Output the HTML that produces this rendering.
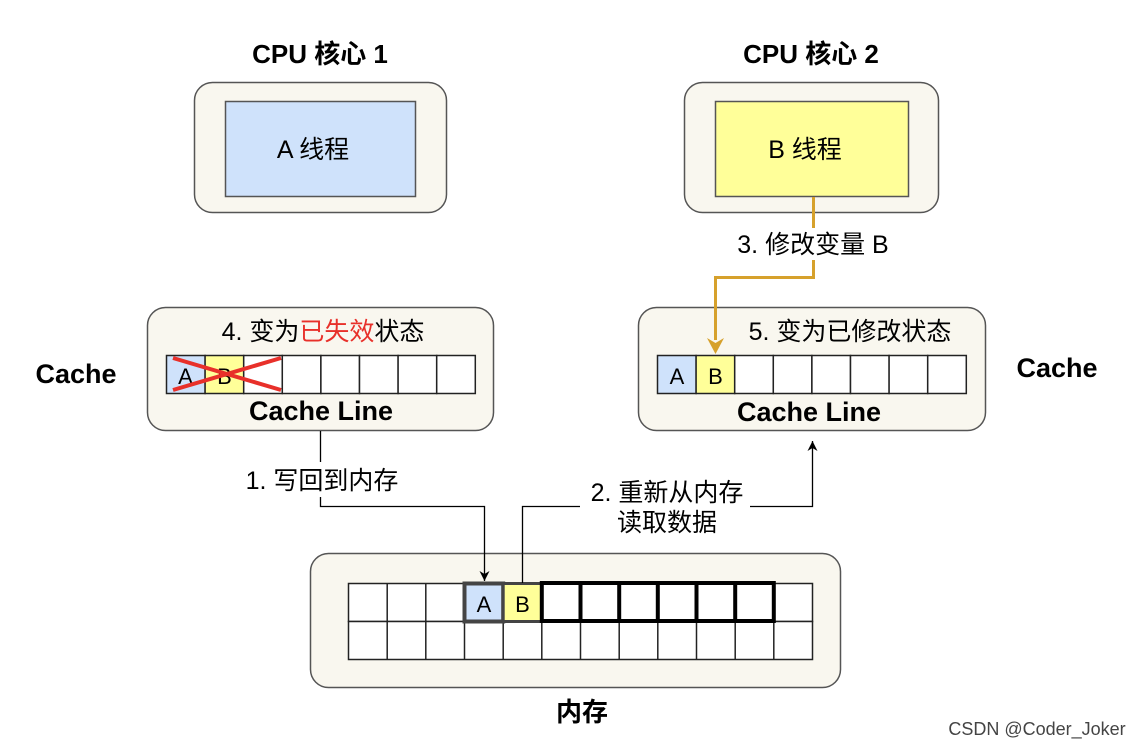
<!DOCTYPE html>
<html><head><meta charset="utf-8"><style>
html,body{margin:0;padding:0;background:#fff;}
svg{display:block;font-family:"Liberation Sans","Noto Sans CJK SC",sans-serif;}
</style></head><body>
<svg width="1142" height="748" viewBox="0 0 1142 748" xmlns="http://www.w3.org/2000/svg">
<defs>
<marker id="ak" markerWidth="12" markerHeight="12" refX="10" refY="5" orient="auto" markerUnits="userSpaceOnUse"><path d="M0,0 L10,5 L0,10 L3,5 Z" fill="#000"/></marker>
</defs>
<text x="320" y="63" font-size="26" font-weight="bold" text-anchor="middle">CPU 核心 1</text>
<text x="811" y="63" font-size="26" font-weight="bold" text-anchor="middle">CPU 核心 2</text>
<rect x="194.5" y="82.5" width="252" height="130" rx="18" fill="#f9f7ef" stroke="#555" stroke-width="1.5"/>
<rect x="225.5" y="101.5" width="190" height="95" fill="#cfe2fb" stroke="#555" stroke-width="1.5"/>
<text x="313" y="158" font-size="25" text-anchor="middle">A 线程</text>
<rect x="684.5" y="82.5" width="254" height="130" rx="18" fill="#f9f7ef" stroke="#555" stroke-width="1.5"/>
<rect x="715.5" y="101.5" width="193" height="95" fill="#ffff99" stroke="#555" stroke-width="1.5"/>
<text x="805" y="158" font-size="25" text-anchor="middle">B 线程</text>
<text x="76" y="383" font-size="27" font-weight="bold" text-anchor="middle">Cache</text>
<text x="1057" y="377" font-size="27" font-weight="bold" text-anchor="middle">Cache</text>
<rect x="147.5" y="307.5" width="346" height="123" rx="18" fill="#f9f7ef" stroke="#555" stroke-width="1.5"/>
<text x="323" y="340" font-size="25" text-anchor="middle">4. 变为<tspan fill="#e8302a">已失效</tspan>状态</text>
<g stroke="#222" stroke-width="1.5">
<rect x="166.5" y="355.5" width="38.6" height="38" fill="#cfe2fb"/>
<rect x="205.1" y="355.5" width="38.6" height="38" fill="#ffff99"/>
<rect x="243.7" y="355.5" width="38.6" height="38" fill="#fff"/>
<rect x="282.3" y="355.5" width="38.6" height="38" fill="#fff"/>
<rect x="320.9" y="355.5" width="38.6" height="38" fill="#fff"/>
<rect x="359.5" y="355.5" width="38.6" height="38" fill="#fff"/>
<rect x="398.1" y="355.5" width="38.6" height="38" fill="#fff"/>
<rect x="436.7" y="355.5" width="38.6" height="38" fill="#fff"/>
</g>
<text x="185.5" y="384" font-size="22" text-anchor="middle">A</text>
<text x="224.5" y="384" font-size="22" text-anchor="middle">B</text>
<line x1="173" y1="390" x2="281" y2="358" stroke="#e8302a" stroke-width="4"/>
<line x1="173" y1="358" x2="281" y2="390" stroke="#e8302a" stroke-width="4"/>
<text x="321" y="420" font-size="27" font-weight="bold" text-anchor="middle">Cache Line</text>
<rect x="638.5" y="307.5" width="347" height="123" rx="18" fill="#f9f7ef" stroke="#555" stroke-width="1.5"/>
<text x="850" y="340" font-size="25" text-anchor="middle">5. 变为已修改状态</text>
<g stroke="#222" stroke-width="1.5">
<rect x="657.5" y="355.5" width="38.6" height="38" fill="#cfe2fb"/>
<rect x="696.1" y="355.5" width="38.6" height="38" fill="#ffff99"/>
<rect x="734.7" y="355.5" width="38.6" height="38" fill="#fff"/>
<rect x="773.3" y="355.5" width="38.6" height="38" fill="#fff"/>
<rect x="811.9" y="355.5" width="38.6" height="38" fill="#fff"/>
<rect x="850.5" y="355.5" width="38.6" height="38" fill="#fff"/>
<rect x="889.1" y="355.5" width="38.6" height="38" fill="#fff"/>
<rect x="927.7" y="355.5" width="38.6" height="38" fill="#fff"/>
</g>
<text x="677" y="384" font-size="22" text-anchor="middle">A</text>
<text x="715.5" y="384" font-size="22" text-anchor="middle">B</text>
<text x="809" y="421" font-size="27" font-weight="bold" text-anchor="middle">Cache Line</text>
<path d="M813.5,197 V228" fill="none" stroke="#d6a12c" stroke-width="3"/>
<path d="M813.5,260 V277.5 H715.5 V340" fill="none" stroke="#d6a12c" stroke-width="3"/>
<path d="M707,338 L715.5,354 L724,338 L715.5,343 Z" fill="#d6a12c"/>
<text x="813" y="253" font-size="25" text-anchor="middle">3. 修改变量 B</text>
<rect x="310.5" y="553.5" width="530" height="134" rx="18" fill="#f9f7ef" stroke="#555" stroke-width="1.5"/>
<g stroke="#222" stroke-width="1.5" fill="#fff">
<rect x="348.5" y="583.5" width="464" height="38"/>
<rect x="348.5" y="621.5" width="464" height="38"/>
<line x1="387.2" y1="583" x2="387.2" y2="660"/><line x1="425.8" y1="583" x2="425.8" y2="660"/>
<line x1="464.5" y1="583" x2="464.5" y2="660"/><line x1="503.2" y1="583" x2="503.2" y2="660"/>
<line x1="541.8" y1="583" x2="541.8" y2="660"/><line x1="580.5" y1="583" x2="580.5" y2="660"/>
<line x1="619.2" y1="583" x2="619.2" y2="660"/><line x1="657.8" y1="583" x2="657.8" y2="660"/>
<line x1="696.5" y1="583" x2="696.5" y2="660"/><line x1="735.2" y1="583" x2="735.2" y2="660"/>
<line x1="773.8" y1="583" x2="773.8" y2="660"/>
</g>
<rect x="464.5" y="583.5" width="38.7" height="38" fill="#cfe2fb" stroke="#444" stroke-width="4"/>
<rect x="503.2" y="583.5" width="38.6" height="38" fill="#ffff99" stroke="#444" stroke-width="3"/>
<g stroke="#000" stroke-width="4" fill="none">
<path d="M541.8,583 H773.8 V621 H541.8 Z"/>
<line x1="580.5" y1="583" x2="580.5" y2="621"/><line x1="619.2" y1="583" x2="619.2" y2="621"/>
<line x1="657.8" y1="583" x2="657.8" y2="621"/><line x1="696.5" y1="583" x2="696.5" y2="621"/>
<line x1="735.2" y1="583" x2="735.2" y2="621"/>
</g>
<text x="484" y="612" font-size="22" text-anchor="middle">A</text>
<text x="522.5" y="612" font-size="22" text-anchor="middle">B</text>
<text x="582" y="721" font-size="26" font-weight="bold" text-anchor="middle">内存</text>
<path d="M320.5,431 V462 M320.5,497 V506.5 H484.5 V581" fill="none" stroke="#000" stroke-width="1.3" marker-end="url(#ak)"/>
<text x="322" y="489" font-size="25" text-anchor="middle">1. 写回到内存</text>
<path d="M522.5,583 V506.5 H580 M750,506.5 H812.5 V441" fill="none" stroke="#000" stroke-width="1.3" marker-end="url(#ak)"/>
<text x="667" y="501" font-size="25" text-anchor="middle">2. 重新从内存</text>
<text x="667" y="531" font-size="25" text-anchor="middle">读取数据</text>
<text x="1037" y="735" font-size="18" fill="#444" text-anchor="middle">CSDN @Coder_Joker</text>
</svg>
</body></html>
